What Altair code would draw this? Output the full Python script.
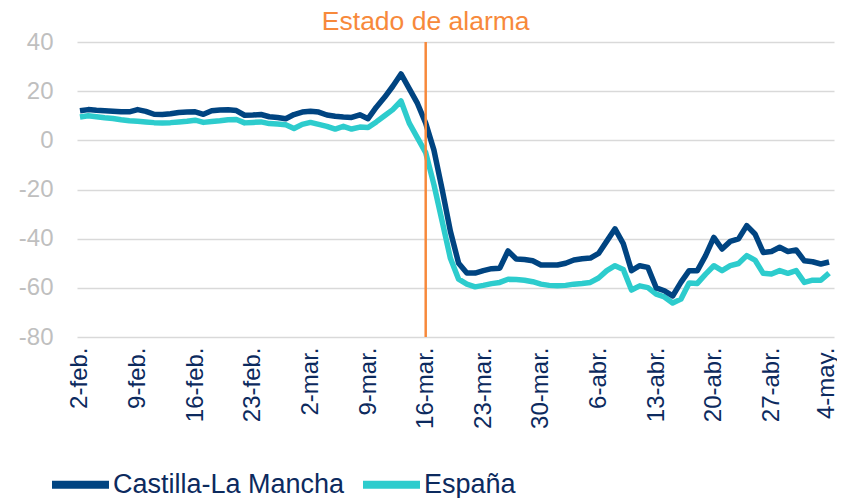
import json
import altair as alt
import pandas as pd

# Daily index (0 = 2-feb ... 91 = 4-may)
days = list(range(92))

clm = [12, 12.5, 12.2, 12, 11.8, 11.6, 11.6, 12.5, 11.8, 10.6,
       10.5, 10.8, 11.3, 11.5, 11.6, 10.6, 12, 12.3, 12.4, 12.1,
       10.2, 10.3, 10.5, 9.6, 9.3, 8.8, 10.5, 11.5, 11.8, 11.5,
       10.3, 9.8, 9.5, 9.3, 10.4, 8.8, 13.5, 17.5, 22, 27,
       21, 15, 7, -4, -20, -37, -50, -54, -54, -53,
       -52.2, -52, -45, -48.3, -48.5, -49, -50.7, -50.7, -50.7, -50,
       -48.7, -48.2, -47.9, -46, -41, -36, -42, -53, -51, -51.7,
       -60, -61.2, -63.3, -57.8, -53, -53, -46.9, -39.5, -44.2, -41.1,
       -40.1, -34.7, -38.1, -45.6, -45.2, -43.5, -45.2, -44.6, -49, -49.4,
       -50.3, -49.5]

esp = [9.5, 10, 9.6, 9.2, 8.9, 8.4, 8.0, 7.8, 7.5, 7.2,
       7.1, 7.2, 7.5, 7.8, 8.2, 7.3, 7.7, 8, 8.4, 8.5,
       7.1, 7.3, 7.5, 6.8, 6.6, 6.3, 4.8, 6.5, 7.3, 6.5,
       5.7, 4.6, 5.7, 4.6, 5.4, 5.2, 7.5, 10, 12.5, 16,
       7, 1, -5, -18, -33, -48, -56.5, -58.5, -59.6, -59,
       -58.3, -57.8, -56.5, -56.6, -56.9, -57.5, -58.5, -59, -59.2, -59,
       -58.5, -58.2, -57.8, -56, -53, -51, -52.5, -60.9, -59.2, -59.9,
       -62.6, -63.7, -66.2, -64.6, -58, -58.2, -54.4, -51, -53, -51,
       -50.1, -46.9, -48.7, -54.1, -54.4, -53, -54.1, -53, -57.8, -56.9,
       -56.9, -54]

tick_labels = ["2-feb.", "9-feb.", "16-feb.", "23-feb.", "2-mar.", "9-mar.",
               "16-mar.", "23-mar.", "30-mar.", "6-abr.", "13-abr.", "20-abr.",
               "27-abr.", "4-may."]
tick_days = [0, 7, 14, 21, 28, 35, 42, 49, 56, 63, 70, 77, 84, 91]
y_ticks = [-80, -60, -40, -20, 0, 20, 40]

series_names = ["Castilla-La Mancha", "España"]
series_colors = ["#004481", "#2DCCCD"]

alarm_day = [42]
alarm_label = ["Estado de alarma"]

FONT = "Liberation Sans"
NAVY_TEXT = "#0c2a5e"
ORANGE = "#F7893B"

df = pd.DataFrame({
    "day": days + days,
    "value": clm + esp,
    "serie": [series_names[0]] * len(days) + [series_names[1]] * len(days),
})
alarm_df = pd.DataFrame({"day": alarm_day, "label": alarm_label})

label_expr = json.dumps(tick_labels) + "[round(datum.value/7)]"

x = alt.X(
    "day:Q",
    scale=alt.Scale(domain=[-0.36, 91.6], nice=False, zero=False),
    axis=alt.Axis(values=tick_days, labelExpr=label_expr, labelAngle=270,
                  labelAlign="right", labelBaseline="middle", labelFontSize=24,
                  labelColor=NAVY_TEXT, labelFont=FONT, ticks=False, domain=False,
                  grid=False, labelPadding=10, labelOverlap=False, title=None,
                  labelOffset={"condition": {"test": "datum.value == 91", "value": -3},
                               "value": 0}),
)
y = alt.Y(
    "value:Q",
    scale=alt.Scale(domain=[-80, 40], nice=False),
    axis=alt.Axis(values=y_ticks, labelExpr="'' + datum.value", grid=True,
                  gridColor="#d9d9d9", gridWidth=1.5, ticks=False, domain=False,
                  labelFontSize=24, labelColor="#bfbfbf", labelFont=FONT,
                  labelPadding=24, title=None),
)
color = alt.Color(
    "serie:N",
    scale=alt.Scale(domain=series_names, range=series_colors),
    legend=alt.Legend(title=None, orient="none", legendX=-29, legendY=410,
                      direction="horizontal", symbolType="stroke",
                      symbolSize=3249, symbolStrokeWidth=8, labelFontSize=27,
                      labelColor=NAVY_TEXT, labelFont=FONT, labelLimit=400,
                      columnPadding=2, labelOffset=0),
)

base = alt.Chart(df)
esp_line = base.transform_filter(alt.datum.serie == series_names[1]).mark_line(
    strokeWidth=5.5, strokeJoin="round").encode(x=x, y=y, color=color)
clm_line = base.transform_filter(alt.datum.serie == series_names[0]).mark_line(
    strokeWidth=5.5, strokeJoin="round").encode(x=x, y=y, color=color)

rule = alt.Chart(alarm_df).mark_rule(color=ORANGE, strokeWidth=2.5).encode(x="day:Q")
text = alt.Chart(alarm_df).mark_text(color=ORANGE, fontSize=26.5, font=FONT,
                                     align="center", baseline="alphabetic").encode(
    x="day:Q", y=alt.value(-12.5), text="label:N")

chart = alt.layer(esp_line, clm_line, rule, text).properties(
    width=757, height=295,
    padding={"left": 69, "top": 34, "right": 3, "bottom": 161},
    autosize=alt.AutoSizeParams(type="none"),
).configure_view(stroke=None)

chart.save("out.html", embed_options={"renderer": "svg", "actions": False})
